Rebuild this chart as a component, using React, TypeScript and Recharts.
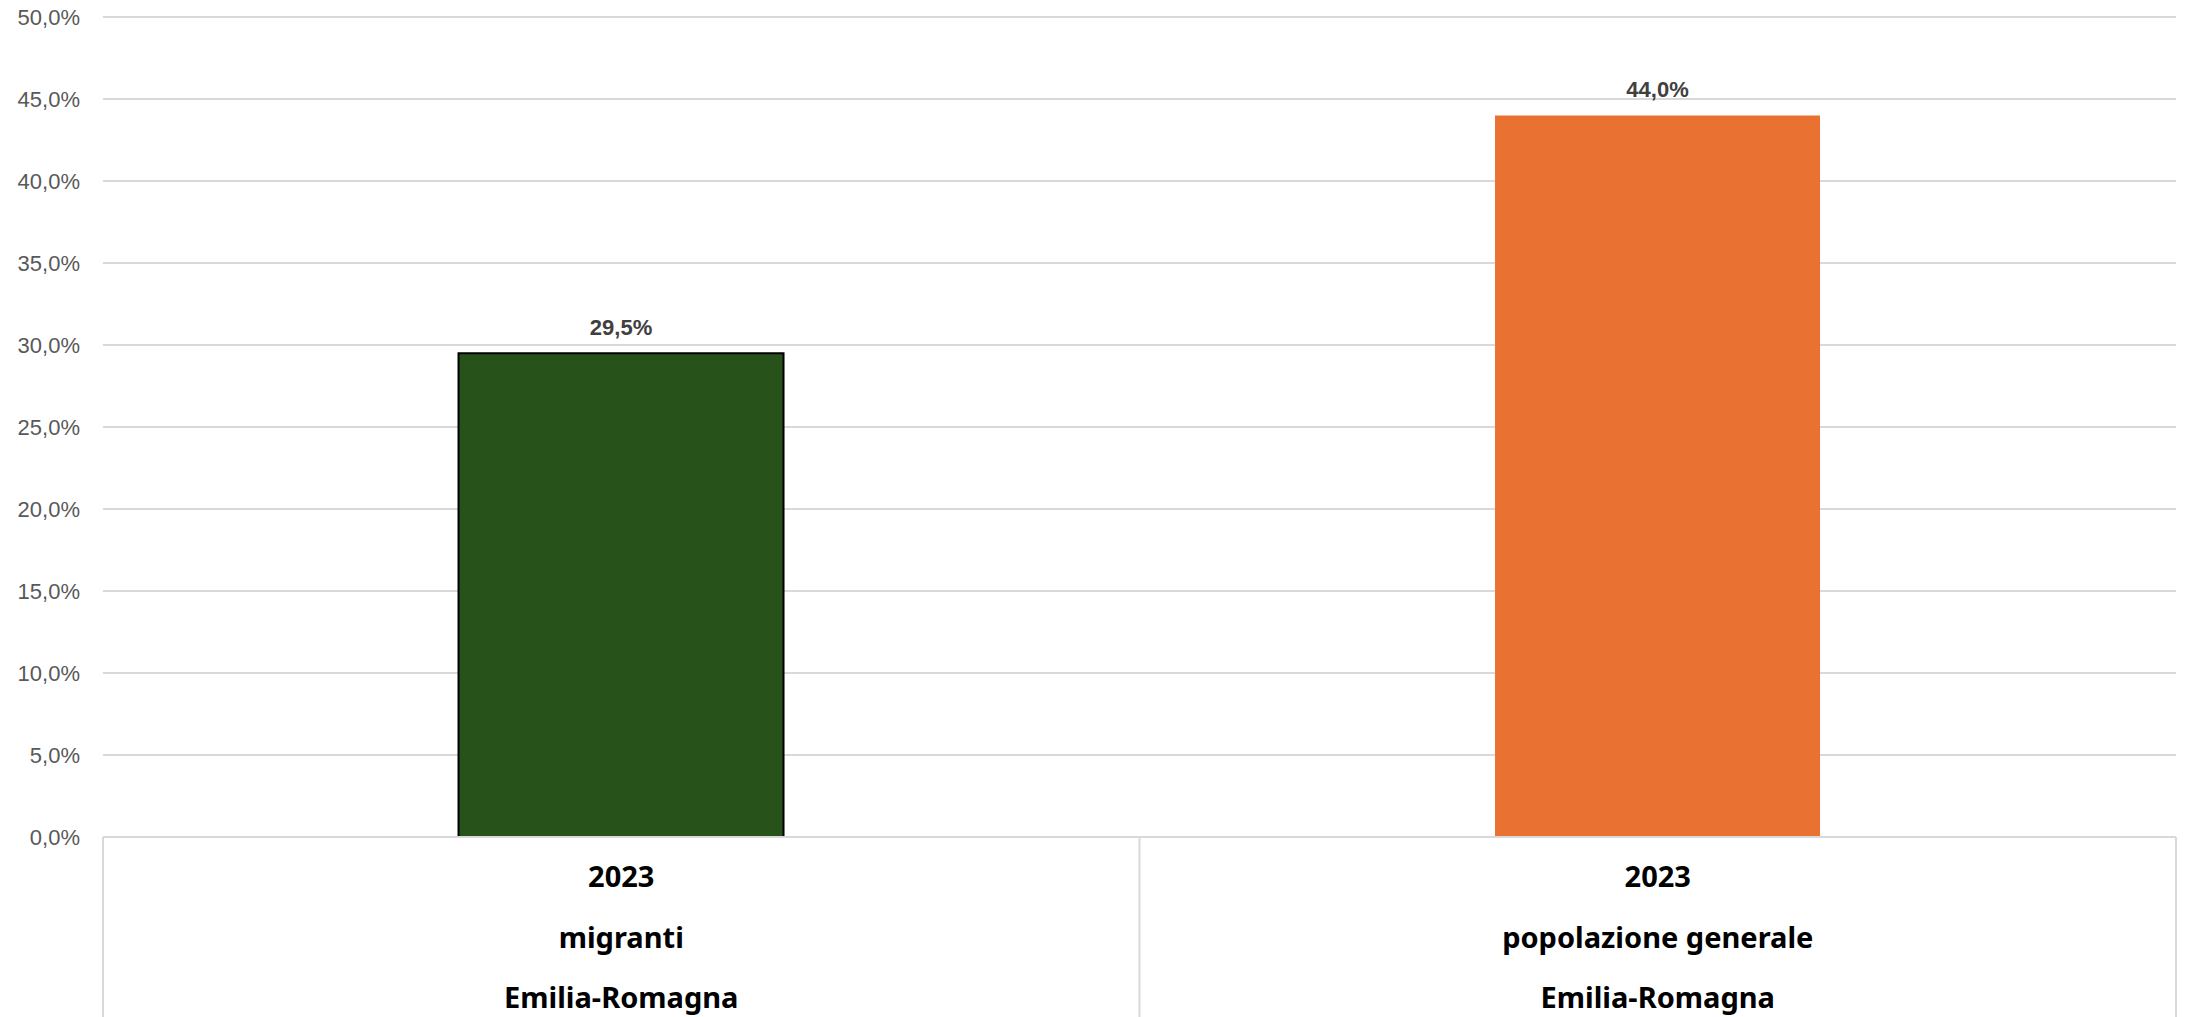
import { BarChart, Bar, XAxis, YAxis, CartesianGrid, LabelList, Cell } from "recharts";

const years = ["2023", "2023"];
const groups = ["migranti", "popolazione generale"];
const regions = ["Emilia-Romagna", "Emilia-Romagna"];
const values = [29.5, 44.0];
const barColors = ["#27521A", "#E97132"];
const barStrokes = ["#000000", "none"];
const yTicks = [0, 5, 10, 15, 20, 25, 30, 35, 40, 45, 50];

const data = years.map((y, i) => ({
  key: `${groups[i]}-${i}`,
  year: y,
  group: groups[i],
  region: regions[i],
  value: values[i],
}));

const WIDTH = 2188;
const HEIGHT = 1017;
const Y_AXIS_W = 103;
const RIGHT = 12;
const PLOT_W = WIDTH - Y_AXIS_W - RIGHT;
const BAND = PLOT_W / data.length;
const X_AXIS_H = 180;

const fmt = (v: number) => `${v.toFixed(1).replace(".", ",")}%`;

const TableTick = ({ x, y, index }: any) => {
  const d = data[index];
  const lineStyle = { stroke: "#D9D9D9", strokeWidth: 2 };
  const textStyle = {
    fontFamily: "'Noto Sans', sans-serif",
    fontWeight: 700,
    fontSize: 29,
    fill: "#000000",
  };
  return (
    <g>
      {index === 0 && <line x1={x - BAND / 2} x2={x - BAND / 2} y1={y} y2={y + X_AXIS_H} {...lineStyle} />}
      <line x1={x + BAND / 2} x2={x + BAND / 2} y1={y} y2={y + X_AXIS_H} {...lineStyle} />
      <text x={x} y={y + 50} textAnchor="middle" style={textStyle}>{d.year}</text>
      <text x={x} y={y + 111} textAnchor="middle" style={textStyle}>{d.group}</text>
      <text x={x} y={y + 171} textAnchor="middle" style={textStyle}>{d.region}</text>
    </g>
  );
};

export default function App() {
  return (
    <div style={{ position: "absolute", left: 0, top: 0, width: WIDTH, height: HEIGHT, background: "#fff" }}>
      <BarChart
        width={WIDTH}
        height={HEIGHT}
        data={data}
        margin={{ top: 17, right: RIGHT, bottom: 0, left: 0 }}
        barCategoryGap="34.3%"
      >
        <CartesianGrid vertical={false} stroke="#D9D9D9" strokeWidth={2} />
        <XAxis
          dataKey="key"
          height={X_AXIS_H}
          axisLine={{ stroke: "#D9D9D9", strokeWidth: 2 }}
          tickLine={false}
          tickSize={0}
          tickMargin={0}
          interval={0}
          tick={<TableTick />}
        />
        <YAxis
          width={Y_AXIS_W}
          domain={[0, 50]}
          ticks={yTicks}
          axisLine={false}
          tickLine={false}
          tickSize={0}
          tickMargin={23}
          tickFormatter={fmt}
          tick={{ fill: "#595959", fontSize: 22, fontFamily: "'Liberation Sans', Arial, sans-serif" }}
        />
        <Bar dataKey="value" isAnimationActive={false}>
          {data.map((d, i) => (
            <Cell key={d.key} fill={barColors[i]} stroke={barStrokes[i]} strokeWidth={2} />
          ))}
          <LabelList
            dataKey="value"
            position="top"
            offset={18}
            formatter={(v: any) => fmt(Number(v))}
            style={{ fill: "#404040", fontSize: 22, fontWeight: 700, fontFamily: "'Liberation Sans', Arial, sans-serif" }}
          />
        </Bar>
      </BarChart>
    </div>
  );
}
